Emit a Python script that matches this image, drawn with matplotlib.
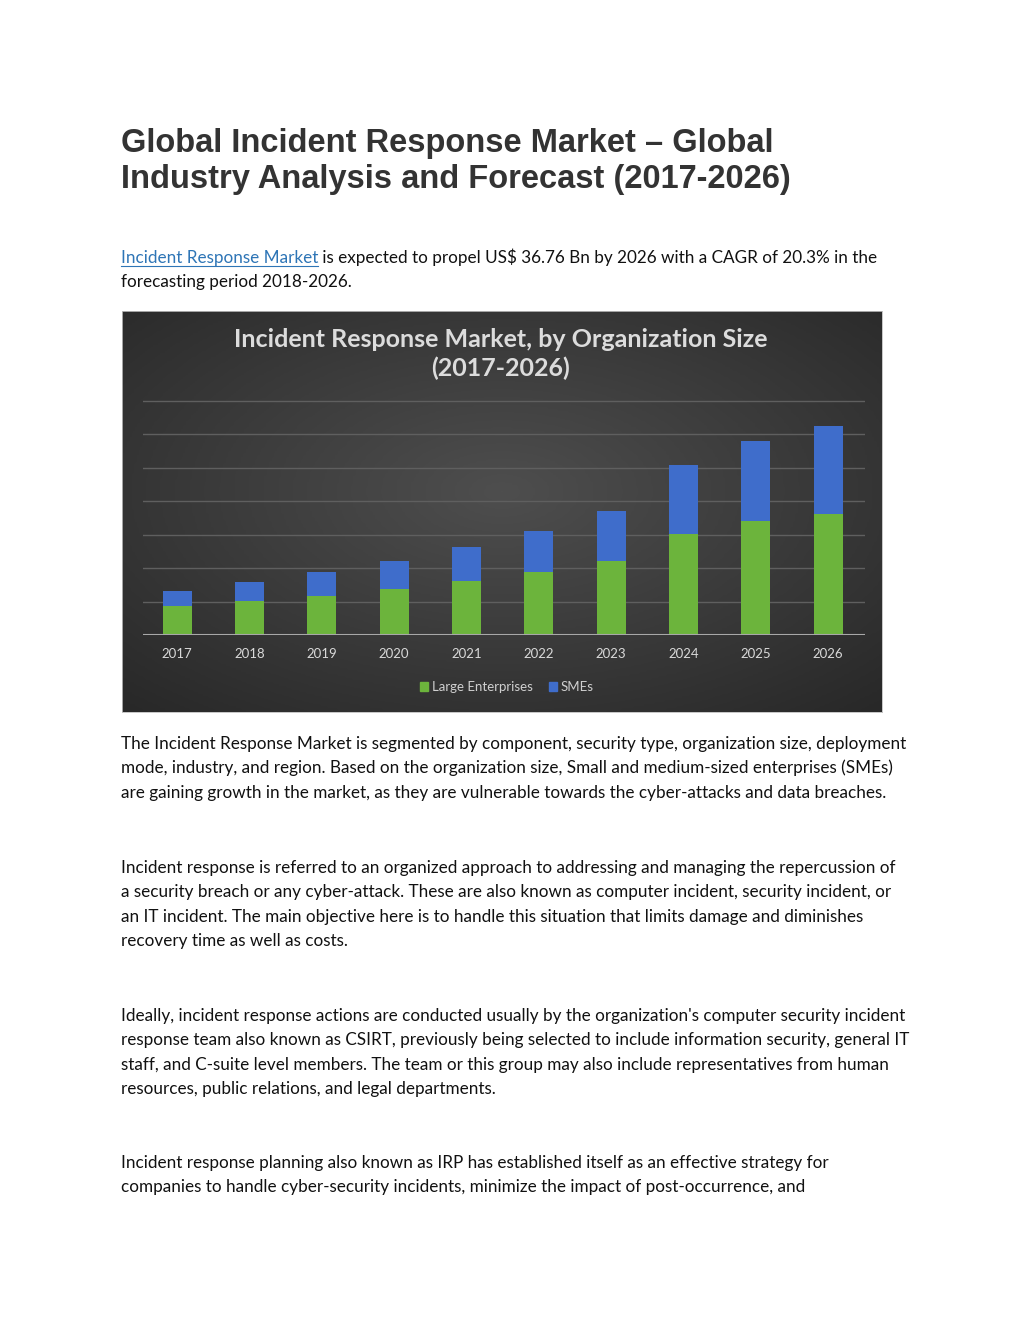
import numpy as np
import matplotlib.pyplot as plt
from matplotlib.patches import Patch
from matplotlib.lines import Line2D
from matplotlib.colors import LinearSegmentedColormap

# values (no axis labels in the source, one gridline ~ 6 Bn)
years = ["2017", "2018", "2019", "2020", "2021", "2022", "2023", "2024", "2025", "2026"]
large_enterprises = [5.17, 6.07, 7.02, 8.33, 9.67, 11.29, 13.32, 18.05, 20.52, 21.65]
smes = [2.70, 3.42, 4.27, 4.99, 6.12, 7.43, 9.00, 12.42, 14.27, 15.84]
grid_step = 6

page_title = ["Global Incident Response Market \u2013 Global",
              "Industry Analysis and Forecast (2017-2026)"]
chart_title = ["Incident Response Market, by Organization Size", "(2017-2026)"]
link_text = "Incident Response Market"
intro_rest = " is expected to propel US$ 36.76 Bn by 2026 with a CAGR of 20.3% in the"
intro_line2 = "forecasting period 2018-2026."

paragraphs = [
    ["The Incident Response Market is segmented by component, security type, organization size, deployment",
     "mode, industry, and region. Based on the organization size, Small and medium-sized enterprises (SMEs)",
     "are gaining growth in the market, as they are vulnerable towards the cyber-attacks and data breaches."],
    ["Incident response is referred to an organized approach to addressing and managing the repercussion of",
     "a security breach or any cyber-attack. These are also known as computer incident, security incident, or",
     "an IT incident. The main objective here is to handle this situation that limits damage and diminishes",
     "recovery time as well as costs."],
    ["Ideally, incident response actions are conducted usually by the organization's computer security incident",
     "response team also known as CSIRT, previously being selected to include information security, general IT",
     "staff, and C-suite level members. The team or this group may also include representatives from human",
     "resources, public relations, and legal departments."],
    ["Incident response planning also known as IRP has established itself as an effective strategy for",
     "companies to handle cyber-security incidents, minimize the impact of post-occurrence, and"],
]
para_baselines = [749, 873, 1021, 1168]

W, H = 1024, 1325
GREEN = "#6cb43c"
BLUE = "#3f6dcb"
BODY_FONT = "Lato"
BODY_SIZE = 12.3


def fx(px):
    return px / W


def fy(py):
    return 1 - py / H


fig = plt.figure(figsize=(W / 100, H / 100), dpi=100)
fig.patch.set_facecolor("white")

# page heading
for i, line in enumerate(page_title):
    fig.text(fx(121), fy(151.7 + 36 * i), line, family="Liberation Sans", fontweight="bold",
             fontsize=23.5, color="#333333", va="baseline")

# intro line with link
link = fig.text(fx(121), fy(263), link_text, family=BODY_FONT, fontsize=BODY_SIZE,
                color="#2e75b6", va="baseline")
renderer = fig.canvas.get_renderer()
bb = link.get_window_extent(renderer=renderer)
fig.add_artist(Line2D([bb.x0 / W, bb.x1 / W], [fy(265.5), fy(265.5)], color="#2e75b6", lw=0.8))
fig.text(bb.x1 / W, fy(263), intro_rest, family=BODY_FONT, fontsize=BODY_SIZE,
         color="#111111", va="baseline")
fig.text(fx(121), fy(287), intro_line2, family=BODY_FONT, fontsize=BODY_SIZE,
         color="#111111", va="baseline")

# body paragraphs
for lines, y0 in zip(paragraphs, para_baselines):
    for j, line in enumerate(lines):
        fig.text(fx(121), fy(y0 + 24.3 * j), line, family=BODY_FONT, fontsize=BODY_SIZE,
                 color="#111111", va="baseline")

# chart background (dark radial gradient like the Excel export)
bg = fig.add_axes([fx(122), fy(712), 760 / W, 401 / H])
yy, xx = np.mgrid[0:1:200j, 0:1:300j]
r = np.sqrt(((xx - 0.5) / 0.75) ** 2 + ((yy - 0.45) / 0.75) ** 2)
shade = np.clip(1 - r, 0, 1)
cmap = LinearSegmentedColormap.from_list("bg", ["#282828", "#4e4e4e"])
bg.imshow(shade, cmap=cmap, aspect="auto", extent=[0, 1, 0, 1], origin="upper")
bg.set_xticks([])
bg.set_yticks([])
for s in bg.spines.values():
    s.set_color("#bdbdbd")
    s.set_linewidth(0.6)

for i, line in enumerate(chart_title):
    fig.text(fx(501), fy(339 + 29 * i), line, ha="center", va="center", family="Lato",
             fontweight="bold", fontsize=18, color="#dcdcdc")

ax = fig.add_axes([fx(142.5), fy(635), (865 - 142.5) / W, (635 - 398.2) / H])
ax.patch.set_alpha(0)
x = np.arange(len(years))
ax.bar(x, large_enterprises, width=0.40, color=GREEN, zorder=3)
ax.bar(x, smes, bottom=large_enterprises, width=0.40, color=BLUE, zorder=3)
ax.set_xlim(-0.48, 9.51)
ax.set_ylim(0, 42.5)
ax.set_yticks(np.arange(grid_step, 7 * grid_step + 1, grid_step))
ax.yaxis.grid(True, color="#5f5f5f", lw=1)
ax.tick_params(axis="y", left=False, labelleft=False)
ax.axhline(0, color="#a8a8a8", lw=1.5, zorder=4)
for s in ax.spines.values():
    s.set_visible(False)
ax.set_xticks(x, years)
ax.tick_params(axis="x", length=0, pad=9, labelsize=9.5, labelcolor="#d9d9d9")
for lab in ax.get_xticklabels():
    lab.set_family("Lato")

fig.legend(handles=[Patch(color=GREEN, label="Large Enterprises"), Patch(color=BLUE, label="SMEs")],
           loc="center", bbox_to_anchor=(fx(507), fy(687)), ncol=2, frameon=False,
           handlelength=0.6, handleheight=0.6, handletextpad=0.3, columnspacing=1.2,
           prop={"family": "Lato", "size": 9.5}, labelcolor="#d0d0d0")

fig.savefig("out.png", dpi=100)
